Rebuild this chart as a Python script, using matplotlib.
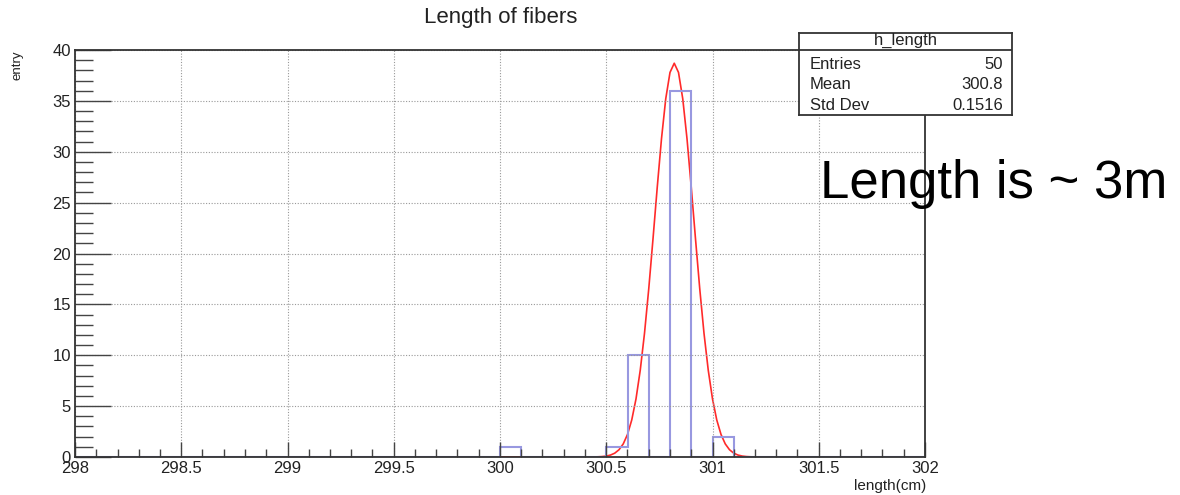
import numpy as np
import matplotlib
matplotlib.use("Agg")
import matplotlib.pyplot as plt
from matplotlib.ticker import MultipleLocator

plt.rcParams['font.family'] = ['Liberation Sans', 'DejaVu Sans']

# histogram h_length: 40 bins of 0.1 cm between 298 and 302
x_min, x_max, n_bins = 298.0, 302.0, 40
filled_bin_low_edges = [300.0, 300.5, 300.6, 300.8, 301.0]
filled_bin_counts = [1, 1, 10, 36, 2]

# gaussian fit parameters
fit_constant = 38.7
fit_mean = 300.82
fit_sigma = 0.092

# statistics box
stats_title = "h_length"
stats_names = ["Entries", "Mean", "Std Dev"]
stats_values = ["50", "300.8", "0.1516"]

edges = np.linspace(x_min, x_max, n_bins + 1)
counts = np.zeros(n_bins)
for lo, c in zip(filled_bin_low_edges, filled_bin_counts):
    counts[int(round((lo - x_min) / 0.1))] = c

W, H = 1180, 495
fig = plt.figure(figsize=(W / 100, H / 100), dpi=100)
ax = fig.add_axes([75 / W, (H - 457) / H, 850 / W, 407 / H])

ax.stairs(counts, edges, color='#9898e0', lw=1.5, zorder=2)

xf = np.linspace(x_min, x_max, 201)
yf = fit_constant * np.exp(-0.5 * ((xf - fit_mean) / fit_sigma) ** 2)
ax.plot(xf, yf, color='#ff2a2a', lw=1.2, zorder=1.8)

ax.set_xlim(x_min, x_max)
ax.set_ylim(0, 40)
ax.xaxis.set_major_locator(MultipleLocator(0.5))
ax.xaxis.set_minor_locator(MultipleLocator(0.1))
ax.yaxis.set_major_locator(MultipleLocator(5))
ax.yaxis.set_minor_locator(MultipleLocator(1))
ax.tick_params(axis='both', which='both', direction='in', color='#444444',
               labelsize=12, labelcolor='#222222')
ax.tick_params(axis='y', which='major', length=26, width=1.0, pad=3)
ax.tick_params(axis='y', which='minor', length=13, width=1.0)
ax.tick_params(axis='x', which='major', length=11, width=1.0, pad=3)
ax.tick_params(axis='x', which='minor', length=6, width=1.0)
ax.xaxis.set_major_formatter(plt.FuncFormatter(lambda v, p: f"{v:g}"))

ax.grid(True, which='major', linestyle=(0, (1, 1.5)), color='#999999', lw=0.8)
ax.set_axisbelow(False)
for s in ax.spines.values():
    s.set_color('#333333')
    s.set_linewidth(1.3)
    s.set_zorder(3)

fig.text(926 / W, 1 - 486 / H, "length(cm)", ha='right', va='center',
         fontsize=11, color='#222222')
fig.text(18 / W, 1 - 50 / H, "entry", ha='center', va='top', rotation=90,
         fontsize=9.5, color='#222222')
fig.text(501 / W, 1 - 18 / H, "Length of fibers", ha='center', va='center',
         fontsize=16, color='#222222')

# statistics box
bx0, bx1, by0, by1, byh = 799, 1012, 33, 115, 50
box = fig.add_axes([bx0 / W, 1 - by1 / H, (bx1 - bx0) / W, (by1 - by0) / H])
box.set_xlim(bx0, bx1)
box.set_ylim(by1, by0)
box.set_xticks([])
box.set_yticks([])
for s in box.spines.values():
    s.set_color('#333333')
    s.set_linewidth(1.3)
box.axhline(byh, color='#333333', lw=1.3)
box.text((bx0 + bx1) / 2, 44.5, stats_title, ha='center',
         va='baseline', fontsize=12, color='#222222')
for i, (n, v) in enumerate(zip(stats_names, stats_values)):
    yy = 64.5 + i * 20.5
    box.text(810, yy, n, ha='left', va='center', fontsize=12, color='#222222')
    box.text(1003, yy, v, ha='right', va='center', fontsize=12, color='#222222')

fig.text(820 / W, 1 - 184 / H, "Length is ~ 3m", ha='left', va='center',
         fontsize=38, color='black')

fig.savefig("out.png", dpi=100)
